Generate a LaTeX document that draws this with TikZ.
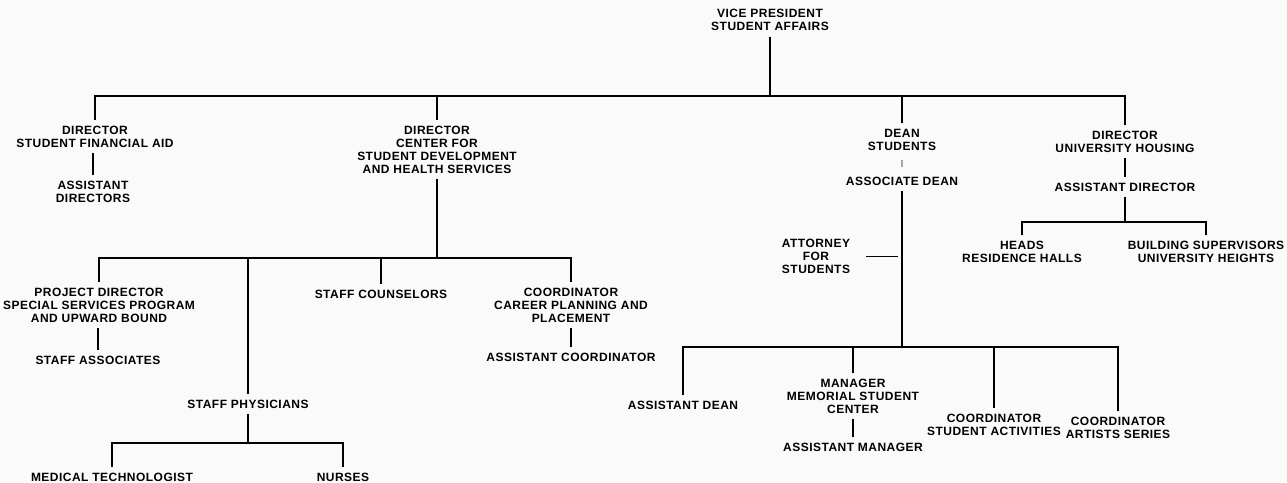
\documentclass[tikz,border=0pt]{standalone}
\usepackage{fontspec}
\setmainfont{Liberation Sans}[LetterSpace=4]
\tikzset{
	unit/.style={align=center, inner sep=6pt, font=\fontsize{12}{13}\selectfont\bfseries},
	link/.style={line width=1.6pt}
}
\begin{document}
\begin{tikzpicture}[x=1pt, y=-1pt]
		\fill[black!2] (0,0) rectangle (1287,482);
		\useasboundingbox (0,0) rectangle (1287,482);
		% bar heights
		\coordinate (top) at (0,96);
		\coordinate (csdbar) at (0,258);
		\coordinate (physbar) at (0,443);
		\coordinate (deanbar) at (0,347);
		\coordinate (housbar) at (0,222);
		% units
		\node[unit] (vp) at (770,20) {VICE PRESIDENT\\STUDENT AFFAIRS};
		\node[unit] (sfa) at (95,136.5) {DIRECTOR\\STUDENT FINANCIAL AID};
		\node[unit] (sfaasst) at (93,191.5) {ASSISTANT\\DIRECTORS};
		\node[unit] (csd) at (437,149.5) {DIRECTOR\\CENTER FOR\\STUDENT DEVELOPMENT\\AND HEALTH SERVICES};
		\node[unit] (dean) at (902,139.5) {DEAN\\STUDENTS};
		\node[unit] (assocdean) at (902,181) {ASSOCIATE DEAN};
		\node[unit] (hous) at (1125,141.5) {DIRECTOR\\UNIVERSITY HOUSING};
		\node[unit] (housasst) at (1125,187) {ASSISTANT DIRECTOR};
		\node[unit] (heads) at (1022,251.5) {HEADS\\RESIDENCE HALLS};
		\node[unit] (bldg) at (1206,251.5) {BUILDING SUPERVISORS\\UNIVERSITY HEIGHTS};
		\node[unit] (proj) at (99,305) {PROJECT DIRECTOR\\SPECIAL SERVICES PROGRAM\\AND UPWARD BOUND};
		\node[unit] (staffassoc) at (98,360) {STAFF ASSOCIATES};
		\node[unit] (couns) at (381,294) {STAFF COUNSELORS};
		\node[unit] (career) at (571,305) {COORDINATOR\\CAREER PLANNING AND\\PLACEMENT};
		\node[unit] (asstcoord) at (571,357) {ASSISTANT COORDINATOR};
		\node[unit] (phys) at (248,404) {STAFF PHYSICIANS};
		\node[unit] (medtech) at (112,477) {MEDICAL TECHNOLOGIST};
		\node[unit] (nurses) at (343,477) {NURSES};
		\node[unit] (atty) at (816,256.5) {ATTORNEY\\FOR\\STUDENTS};
		\node[unit] (asstdean) at (683,405) {ASSISTANT DEAN};
		\node[unit] (mgr) at (853,396) {MANAGER\\MEMORIAL STUDENT\\CENTER};
		\node[unit] (asstmgr) at (853,447) {ASSISTANT MANAGER};
		\node[unit] (actv) at (994,424.5) {COORDINATOR\\STUDENT ACTIVITIES};
		\node[unit] (arts) at (1118,427.5) {COORDINATOR\\ARTISTS SERIES};
		% vice president
		\draw[link] (vp.south) -- (vp.south |- top);
		\draw[link] (sfa.north) -- (sfa.north |- top) -- (hous.north |- top) -- (hous.north);
		\draw[link] (csd.north) -- (csd.north |- top);
		\draw[link] (dean.north) -- (dean.north |- top);
		% financial aid
		\draw[link] (sfaasst.north |- sfa.south) -- (sfaasst.north);
		% student development
		\draw[link] (csd.south) -- (csd.south |- csdbar);
		\draw[link] (proj.north) -- (proj.north |- csdbar) -- (career.north |- csdbar) -- (career.north);
		\draw[link] (couns.north) -- (couns.north |- csdbar);
		\draw[link] (phys.north) -- (phys.north |- csdbar);
		\draw[link] (staffassoc.north |- proj.south) -- (staffassoc.north);
		\draw[link] (career.south) -- (asstcoord.north);
		\draw[link] (phys.south) -- (phys.south |- physbar);
		\draw[link] (medtech.north) -- (medtech.north |- physbar) -- (nurses.north |- physbar) -- (nurses.north);
		% dean of students
		\draw[link, black!35, shorten <=4pt, shorten >=4pt] (dean.south) -- (assocdean.north);
		\draw[link] (assocdean.south) -- (assocdean.south |- deanbar);
		\coordinate (attyend) at (assocdean.south |- atty);
		\draw[link, shorten <=10pt, shorten >=4pt] (atty.east) -- (attyend);
		\draw[link] (asstdean.north) -- (asstdean.north |- deanbar) -- (arts.north |- deanbar) -- (arts.north);
		\draw[link] (mgr.north) -- (mgr.north |- deanbar);
		\draw[link] (actv.north) -- (actv.north |- deanbar);
		\draw[link] (mgr.south) -- (asstmgr.north);
		% housing
		\draw[link] (hous.south) -- (housasst.north);
		\draw[link] (housasst.south) -- (housasst.south |- housbar);
		\draw[link] (heads.north) -- (heads.north |- housbar) -- (bldg.north |- housbar) -- (bldg.north);
	\end{tikzpicture}
\end{document}
